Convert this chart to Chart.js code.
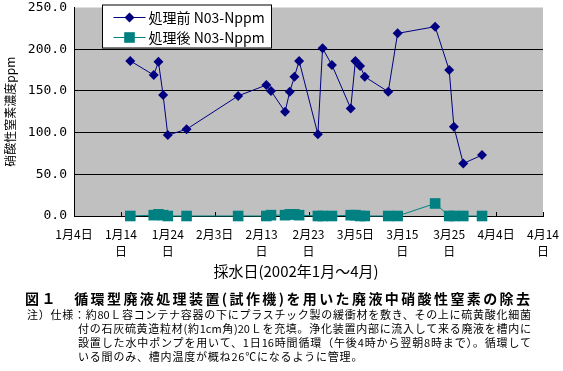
<!DOCTYPE html>
<html><head><meta charset="utf-8">
<script src="https://cdn.jsdelivr.net/npm/chart.js@4/dist/chart.umd.min.js"></script>
<style>
html,body{margin:0;padding:0;background:#fff;}
#wrap{position:relative;width:563px;height:371px;overflow:hidden;font-family:"Noto Sans CJK JP",sans-serif;color:#000;}
#c{position:absolute;left:0;top:0;}
.cap{position:absolute;white-space:nowrap;line-height:1;}
.j{text-align:justify;text-align-last:justify;text-justify:inter-character;}
</style></head>
<body><div id="wrap">
<canvas id="c" width="563" height="285"></canvas>
<div class="cap" id="xt" style="left:196px;width:200px;top:263px;font-size:15px;text-align:center;">採水日(2002年1月～4月)</div>
<div class="cap j" style="left:25px;width:505px;top:291px;font-size:14px;font-weight:bold;">図１　循環型廃液処理装置(試作機)を用いた廃液中硝酸性窒素の除去</div>
<div class="cap j" style="left:27px;width:504px;top:309px;font-size:11px;">注）仕様：約80Ｌ容コンテナ容器の下にプラスチック製の緩衝材を敷き、その上に硫黄酸化細菌</div>
<div class="cap j" style="left:78px;width:453px;top:323px;font-size:11px;">付の石灰硫黄造粒材(約1cm角)20Ｌを充填。浄化装置内部に流入して来る廃液を槽内に</div>
<div class="cap j" style="left:78px;width:453px;top:337px;font-size:11px;">設置した水中ポンプを用いて、1日16時間循環（午後4時から翌朝8時まで）。循環して</div>
<div class="cap" style="left:78px;top:351px;font-size:11px;letter-spacing:0.8px;">いる間のみ、槽内温度が概ね26℃になるように管理。</div>
</div>
<script>
// ---- data ----
const sampleDates = ['2002-01-16','2002-01-21','2002-01-22','2002-01-23','2002-01-24','2002-01-28',
  '2002-02-08','2002-02-14','2002-02-15','2002-02-18','2002-02-19','2002-02-20','2002-02-21',
  '2002-02-25','2002-02-26','2002-02-28','2002-03-04','2002-03-05','2002-03-06','2002-03-07',
  '2002-03-12','2002-03-14','2002-03-22','2002-03-25','2002-03-26','2002-03-28','2002-04-01'];
const beforeValues = [186,169,185,145,97,104,144,157,150,125,149,167,186,98,201,181,129,186,180,167,149,219,227,175,107,63,73];
const afterValues  = [0,1,2,1,0,0,0,0,1,1,2,2,1,0,0,0,1,1,0,0,0,0,15,0,0,0,0];
const seriesNames = ['処理前 N03-Nppm','処理後 N03-Nppm'];
const xTickLabels = [['1月4日'],['1月14','日'],['1月24','日'],['2月3日'],['2月13','日'],['2月23','日'],
  ['3月5日'],['3月15','日'],['3月25','日'],['4月4日'],['4月14','日']];
const yTitle = '硝酸性窒素濃度ppm';
const axisStart = '2002-01-04';

const DAY = 86400000;
const origin = Date.parse(axisStart + 'T00:00:00Z');
const toDay = s => (Date.parse(s + 'T00:00:00Z') - origin) / DAY;
const beforeData = beforeValues.map((v, i) => ({x: toDay(sampleDates[i]), y: v}));
const afterData = afterValues.map((v, i) => ({x: toDay(sampleDates[i]), y: v}));

const FONT = '"Noto Sans CJK JP", sans-serif';

const bgPlugin = {
  id: 'bg',
  beforeDraw(chart) {
    const {ctx, chartArea: a} = chart;
    ctx.save();
    ctx.fillStyle = '#c0c0c0';
    ctx.fillRect(a.left, a.top, a.right - a.left, a.bottom - a.top);
    ctx.restore();
  },
  beforeDatasetsDraw(chart) {
    const {ctx, chartArea: a} = chart;
    const xs = chart.scales.x;
    ctx.save();
    ctx.strokeStyle = '#000';
    ctx.lineWidth = 1;
    xs.ticks.forEach(t => {
      if (t.value === xs.min) return;
      const px = Math.round(xs.getPixelForValue(t.value)) + 0.5;
      ctx.beginPath();
      ctx.moveTo(px, a.bottom);
      ctx.lineTo(px, a.bottom - 4);
      ctx.stroke();
    });
    ctx.restore();
  }
};

const legendPlugin = {
  id: 'boxLegend',
  afterDatasetsDraw(chart) {
    const {ctx, chartArea: a} = chart;
    const bx = a.left + 28.5, by = a.top - 2.5, bw = 169, bh = 43;
    ctx.save();
    ctx.fillStyle = '#fff';
    ctx.fillRect(bx, by, bw, bh);
    ctx.strokeStyle = '#000';
    ctx.lineWidth = 1;
    ctx.strokeRect(bx, by, bw, bh);
    chart.data.datasets.forEach((ds, i) => {
      const cy = by + 12.5 + i * 20;
      ctx.strokeStyle = ds.borderColor;
      ctx.lineWidth = 1;
      ctx.beginPath();
      ctx.moveTo(bx + 11, cy);
      ctx.lineTo(bx + 43, cy);
      ctx.stroke();
      ctx.fillStyle = ds.backgroundColor;
      const mx = bx + 27;
      if (ds.pointStyle === 'rectRot') {
        const r = ds.pointRadius;
        ctx.beginPath();
        ctx.moveTo(mx, cy - r); ctx.lineTo(mx + r, cy); ctx.lineTo(mx, cy + r); ctx.lineTo(mx - r, cy);
        ctx.closePath(); ctx.fill();
      } else {
        const h = ds.pointRadius * Math.SQRT1_2;
        ctx.fillRect(mx - h, cy - h, 2 * h, 2 * h);
      }
      ctx.fillStyle = '#000';
      ctx.font = '14px ' + FONT;
      ctx.textBaseline = 'middle';
      ctx.textAlign = 'left';
      ctx.fillText(ds.label, bx + 46, cy + 0.5);
    });
    ctx.restore();
  }
};

new Chart(document.getElementById('c'), {
  type: 'line',
  data: {
    datasets: [
      {label: seriesNames[0], data: beforeData, borderColor: '#000080', backgroundColor: '#000080',
       borderWidth: 1, pointStyle: 'rectRot', pointRadius: 5, pointBorderWidth: 0, tension: 0, clip: false},
      {label: seriesNames[1], data: afterData, borderColor: '#008080', backgroundColor: '#008080',
       borderWidth: 1, pointStyle: 'rect', pointRadius: 7.5, pointBorderWidth: 0, tension: 0, clip: false}
    ]
  },
  options: {
    responsive: false,
    animation: false,
    devicePixelRatio: 1,
    layout: {padding: {left: 0, right: 20, top: 6, bottom: 0}},
    plugins: {legend: {display: false}, tooltip: {enabled: false}},
    scales: {
      x: {
        type: 'linear', min: 0, max: 100,
        ticks: {stepSize: 10, autoSkip: false, maxRotation: 0, minRotation: 0, padding: 10, color: '#000',
          font: {size: 12, family: FONT, lineHeight: 1.4},
          callback: (v, i) => xTickLabels[i]},
        grid: {display: true, drawOnChartArea: false, drawTicks: false},
        border: {display: true, color: '#000', width: 1},
        afterFit: s => { s.height = 69; s.paddingLeft = 0; s.paddingRight = 0; }
      },
      y: {
        min: 0, max: 250,
        ticks: {stepSize: 50, padding: 7, color: '#000',
          font: {size: 13, family: '"DejaVu Sans Mono", monospace'},
          callback: v => v.toFixed(1)},
        grid: {color: c => (c.tick && c.tick.value === 250) ? 'rgba(0,0,0,0)' : '#000', drawTicks: false},
        border: {display: true, color: '#000', width: 1},
        title: {display: true, text: yTitle, color: '#000', font: {size: 12, family: FONT}, padding: {top: 3, bottom: 0}},
        afterFit: s => { s.width = 74; s.paddingTop = 0; s.paddingBottom = 0; }
      }
    }
  },
  plugins: [bgPlugin, legendPlugin]
});
</script>
</body></html>
